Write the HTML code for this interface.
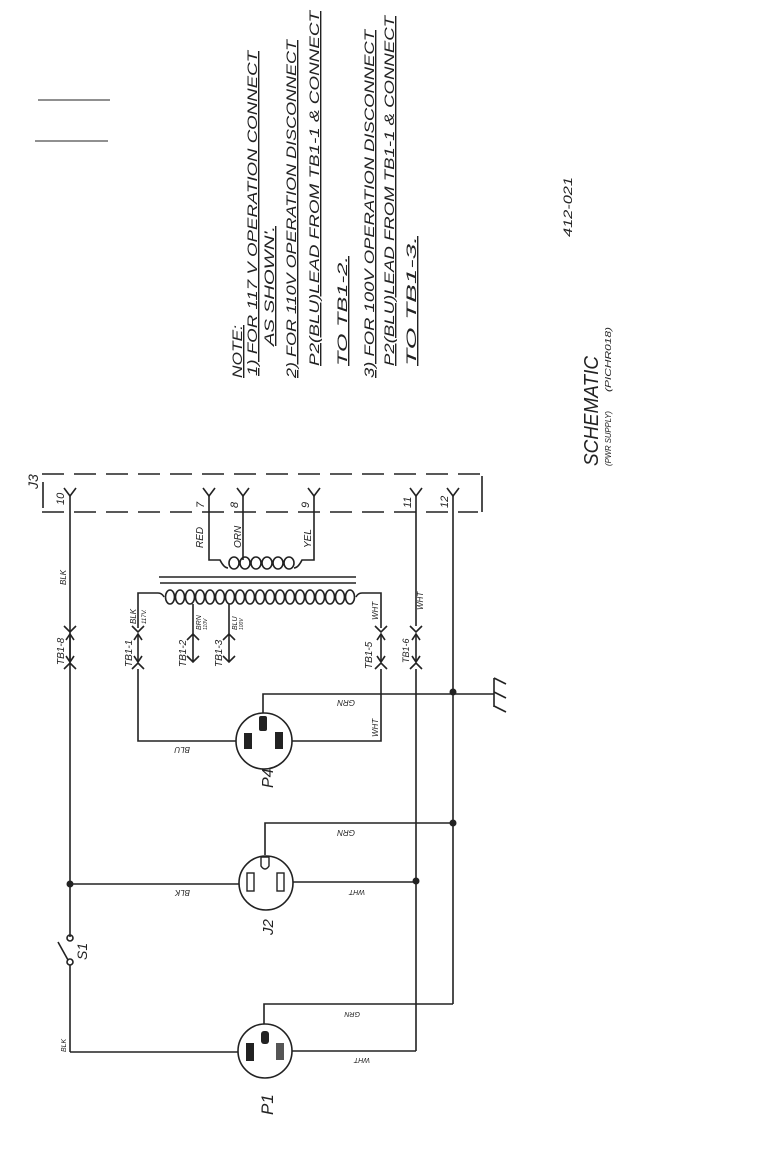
<!DOCTYPE html>
<html><head><meta charset="utf-8"><style>
html,body{margin:0;padding:0;background:#fff;}
svg{display:block}
text{font-family:"Liberation Sans",sans-serif;font-style:italic;fill:#222}
</style></head><body>
<svg width="763" height="1152" viewBox="0 0 763 1152" xmlns="http://www.w3.org/2000/svg">
<rect width="763" height="1152" fill="#fff"/>
<g stroke="#222" stroke-width="1.6" fill="none">
<line x1="38" y1="100" x2="110" y2="100" stroke-width="1"/>
<line x1="35" y1="141" x2="108" y2="141" stroke-width="1"/>
<line x1="42" y1="474" x2="480" y2="474" stroke-dasharray="22,10"/>
<line x1="42" y1="512" x2="478" y2="512" stroke-dasharray="22,10"/>
<line x1="482" y1="476" x2="482" y2="512"/>
<line x1="43" y1="482" x2="43" y2="508"/>
<path d="M64,488 L70,496 L76,488 M203,488 L209,496 L215,488 M237,488 L243,496 L249,488 M308,488 L314,496 L320,488 M410,488 L416,496 L422,488 M447,488 L453,496 L459,488"/>
<line x1="70" y1="496" x2="70" y2="937"/>
<line x1="70" y1="965" x2="70" y2="1052"/>
<circle cx="70" cy="962" r="3"/><circle cx="70" cy="938" r="3"/>
<line x1="68" y1="960" x2="58" y2="942"/>
<path d="M209,496 V560 H220 q4,8 8,8 M314,496 V560 H302 q-4,8 -8,8"/>
<line x1="243" y1="496" x2="243" y2="560"/>
<g>
<ellipse cx="234" cy="563" rx="5" ry="6"/><ellipse cx="245" cy="563" rx="5" ry="6"/><ellipse cx="256" cy="563" rx="5" ry="6"/><ellipse cx="267" cy="563" rx="5" ry="6"/><ellipse cx="278" cy="563" rx="5" ry="6"/><ellipse cx="289" cy="563" rx="5" ry="6"/>
</g>
<line x1="159" y1="577" x2="356" y2="577"/>
<line x1="160" y1="583" x2="356" y2="583"/>
<path d="M138,628 V593 H158 q4,0 6,4 M356,597 q2,-4 6,-4 H381 V628"/>
<g>
<ellipse cx="170" cy="597" rx="4.5" ry="7"/><ellipse cx="180" cy="597" rx="4.5" ry="7"/><ellipse cx="190" cy="597" rx="4.5" ry="7"/><ellipse cx="200" cy="597" rx="4.5" ry="7"/><ellipse cx="210" cy="597" rx="4.5" ry="7"/><ellipse cx="220" cy="597" rx="4.5" ry="7"/><ellipse cx="230" cy="597" rx="4.5" ry="7"/><ellipse cx="240" cy="597" rx="4.5" ry="7"/><ellipse cx="250" cy="597" rx="4.5" ry="7"/><ellipse cx="260" cy="597" rx="4.5" ry="7"/><ellipse cx="270" cy="597" rx="4.5" ry="7"/><ellipse cx="280" cy="597" rx="4.5" ry="7"/><ellipse cx="290" cy="597" rx="4.5" ry="7"/><ellipse cx="300" cy="597" rx="4.5" ry="7"/><ellipse cx="310" cy="597" rx="4.5" ry="7"/><ellipse cx="320" cy="597" rx="4.5" ry="7"/><ellipse cx="330" cy="597" rx="4.5" ry="7"/><ellipse cx="340" cy="597" rx="4.5" ry="7"/><ellipse cx="350" cy="597" rx="4.5" ry="7"/>
</g>
<line x1="193" y1="604" x2="193" y2="634"/>
<line x1="229" y1="604" x2="229" y2="634"/>
<path d="M64,626 L70,632 L76,626 M64,669 L70,663 L76,669 M66,640 L70,634 L74,640 M66,656 L70,662 L74,656"/>
<path d="M132,626 L138,632 L144,626 M132,669 L138,663 L144,669 M134,640 L138,634 L142,640 M134,656 L138,662 L142,656"/>
<path d="M187,640 L193,634 L199,640 M187,656 L193,662 L199,656 M193,634 V662"/>
<path d="M223,640 L229,634 L235,640 M223,656 L229,662 L235,656 M229,634 V662"/>
<path d="M375,626 L381,632 L387,626 M375,669 L381,663 L387,669 M377,640 L381,634 L385,640 M377,656 L381,662 L385,656"/>
<path d="M410,626 L416,632 L422,626 M410,669 L416,663 L422,669 M412,640 L416,634 L420,640 M412,656 L416,662 L420,656"/>
<line x1="138" y1="634" x2="138" y2="662"/><line x1="381" y1="634" x2="381" y2="662"/>
<line x1="70" y1="634" x2="70" y2="662"/><line x1="416" y1="634" x2="416" y2="662"/>
<path d="M138,669 V741 H236 M381,669 V741 H292"/>
<path d="M263,713 V694 H494"/>
<line x1="494" y1="678" x2="494" y2="707"/>
<path d="M494,678 L506,684 M494,692 L506,698 M494,706 L506,712"/>
<line x1="416" y1="496" x2="416" y2="626"/>
<line x1="416" y1="669" x2="416" y2="1051"/>
<line x1="453" y1="496" x2="453" y2="1004"/>
<path d="M70,884 H239 M293,882 H416 M265,855 V823 H453"/>
<path d="M70,1052 H238 M292,1051 H416 M264,1024 V1004 H453"/>
<circle cx="264" cy="741" r="28"/>
<circle cx="266" cy="883" r="27"/>
<circle cx="265" cy="1051" r="27"/>
</g>
<g fill="#222">
<circle cx="70" cy="884" r="3.5"/><circle cx="416" cy="881" r="3.5"/>
<circle cx="453" cy="692" r="3.5"/><circle cx="453" cy="823" r="3.5"/>
<rect x="259" y="716" width="8" height="15" rx="2"/>
<rect x="244" y="733" width="8" height="16"/>
<rect x="275" y="732" width="8" height="17"/>
<rect x="261" y="1031" width="8" height="13" rx="3"/>
<rect x="246" y="1043" width="8" height="18"/>
<rect x="276" y="1043" width="8" height="17" fill="#555"/>
</g>
<g stroke="#222" stroke-width="1.4" fill="none">
<rect x="247" y="873" width="7" height="18"/>
<rect x="277" y="873" width="7" height="18"/>
<path d="M261,857 V866 q4,6 8,0 V857 Z"/>
</g>
<g font-size="11">
<text transform="translate(64,505) rotate(-90)">10</text>
<text transform="translate(204,508) rotate(-90)">7</text>
<text transform="translate(238,508) rotate(-90)">8</text>
<text transform="translate(309,508) rotate(-90)">9</text>
<text transform="translate(411,508) rotate(-90)">11</text>
<text transform="translate(448,508) rotate(-90)">12</text>
<text transform="translate(203,548) rotate(-90)" font-size="10">RED</text>
<text transform="translate(241,548) rotate(-90)" font-size="10">ORN</text>
<text transform="translate(311,548) rotate(-90)" font-size="10">YEL</text>
<text transform="translate(66,585) rotate(-90)" font-size="8">BLK</text>
<text transform="translate(423,610) rotate(-90)" font-size="8">WHT</text>
<text transform="translate(64,665) rotate(-90)" font-size="10">TB1-8</text>
<text transform="translate(132,667) rotate(-90)" font-size="10">TB1-1</text>
<text transform="translate(186,667) rotate(-90)" font-size="10">TB1-2</text>
<text transform="translate(222,667) rotate(-90)" font-size="10">TB1-3</text>
<text transform="translate(372,669) rotate(-90)" font-size="10">TB1-5</text>
<text transform="translate(409,663) rotate(-90)" font-size="9">TB1-6</text>
<text transform="translate(136,624) rotate(-90)" font-size="8">BLK</text>
<text transform="translate(146,624) rotate(-90)" font-size="6">117V.</text>
<text transform="translate(201,630) rotate(-90)" font-size="7">BRN</text>
<text transform="translate(207,630) rotate(-90)" font-size="5">110V</text>
<text transform="translate(237,630) rotate(-90)" font-size="7">BLU</text>
<text transform="translate(243,630) rotate(-90)" font-size="5">100V</text>
<text transform="translate(378,620) rotate(-90)" font-size="8">WHT</text>
<text transform="translate(378,737) rotate(-90)" font-size="8">WHT</text>
<text transform="translate(190,747) rotate(180)" font-size="8">BLU</text>
<text transform="translate(355,700) rotate(180)" font-size="8">GRN</text>
<text transform="translate(355,830) rotate(180)" font-size="8">GRN</text>
<text transform="translate(190,890) rotate(180)" font-size="8">BLK</text>
<text transform="translate(365,890) rotate(180)" font-size="7">WHT</text>
<text transform="translate(360,1012) rotate(180)" font-size="7">GRN</text>
<text transform="translate(370,1058) rotate(180)" font-size="7">WHT</text>
<text transform="translate(66,1052) rotate(-90)" font-size="7">BLK</text>
<text transform="translate(87,960) rotate(-90)" font-size="14">S1</text>
<text transform="translate(273,788) rotate(-90)" font-size="16">P4</text>
<text transform="translate(273,935) rotate(-90)" font-size="15">J2</text>
<text transform="translate(273,1115) rotate(-90)" font-size="17">P1</text>
<text transform="translate(38,489) rotate(-90)" font-size="14">J3</text>
</g>
<g font-size="14">
<text transform="translate(242,378) rotate(-90)" text-decoration="underline" textLength="53" lengthAdjust="spacingAndGlyphs">NOTE:</text>
<text transform="translate(257,376) rotate(-90)" text-decoration="underline" textLength="325" lengthAdjust="spacingAndGlyphs">1) FOR 117 V OPERATION CONNECT</text>
<text transform="translate(274,346) rotate(-90)" text-decoration="underline" textLength="120" lengthAdjust="spacingAndGlyphs">AS SHOWN'.</text>
<text transform="translate(296,378) rotate(-90)" text-decoration="underline" textLength="338" lengthAdjust="spacingAndGlyphs">2) FOR 110V OPERATION DISCONNECT</text>
<text transform="translate(319,366) rotate(-90)" text-decoration="underline" textLength="355" lengthAdjust="spacingAndGlyphs">P2(BLU)LEAD FROM TB1-1 &amp; CONNECT</text>
<text transform="translate(347,366) rotate(-90)" text-decoration="underline" textLength="110" lengthAdjust="spacingAndGlyphs">TO TB1-2.</text>
<text transform="translate(374,378) rotate(-90)" text-decoration="underline" textLength="348" lengthAdjust="spacingAndGlyphs">3) FOR 100V OPERATION DISCONNECT</text>
<text transform="translate(394,366) rotate(-90)" text-decoration="underline" textLength="350" lengthAdjust="spacingAndGlyphs">P2(BLU)LEAD FROM TB1-1 &amp; CONNECT</text>
<text transform="translate(416,366) rotate(-90)" text-decoration="underline" textLength="130" lengthAdjust="spacingAndGlyphs">TO TB1-3.</text>
<text transform="translate(572,237) rotate(-90)" font-size="12" textLength="60" lengthAdjust="spacingAndGlyphs">412-021</text>
<text transform="translate(598,466) rotate(-90)" font-size="20" textLength="110" lengthAdjust="spacingAndGlyphs">SCHEMATIC</text>
<text transform="translate(611,466) rotate(-90)" font-size="8" textLength="55" lengthAdjust="spacingAndGlyphs">(PWR SUPPLY)</text>
<text transform="translate(611,392) rotate(-90)" font-size="8" textLength="65" lengthAdjust="spacingAndGlyphs">(PICHR018)</text>
</g>
</svg>
</body></html>
